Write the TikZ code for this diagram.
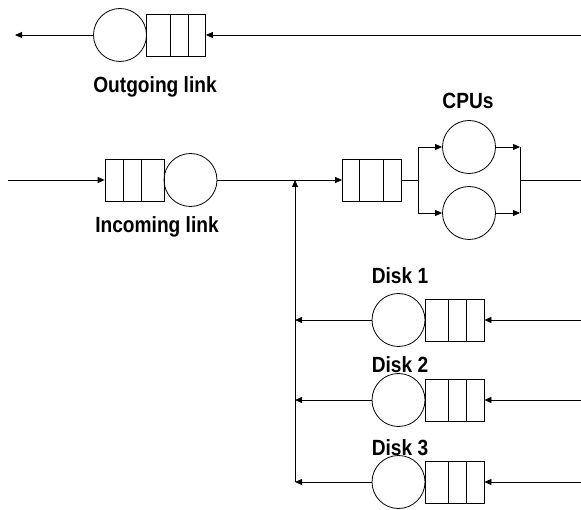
\documentclass[tikz,border=0pt]{standalone}
\usepackage{fontspec}
\setmainfont{Liberation Sans}
\usetikzlibrary{arrows.meta}
\tikzset{
  srv/.style={draw, circle, minimum size=53pt, inner sep=0pt, line width=0.8pt},
  que/.style={draw, rectangle, minimum width=59pt, minimum height=42pt, inner sep=0pt, line width=0.8pt},
  lbl/.style={font=\bfseries\fontsize{22}{24}\selectfont, inner sep=0pt, xscale=0.87},
  ln/.style={line width=0.8pt},
  arr/.style={line width=0.8pt, -{Triangle[length=7pt,width=6pt]}}
}
\begin{document}
\begin{tikzpicture}[x=1pt,y=-1pt]
\useasboundingbox (0,0) rectangle (581,510);

% Outgoing link
\node[srv] (oc) at (120,35) {};
\node[que] (oq) at (176,35) {};
\draw[ln] (170,14) -- (170,56) (188,14) -- (188,56);
\coordinate (oL) at (15,35);
\coordinate (oR) at (581,35);
\draw[arr] (oR) -- (oq.east);
\draw[arr] (oc.west) -- (oL);
\node[lbl] (olab) at (155,87) {Outgoing link};

% Incoming link
\node[que] (iq) at (134.5,180) {};
\draw[ln] (123,159) -- (123,201) (141,159) -- (141,201);
\node[srv] (ic) at (190.5,180) {};
\coordinate (iL) at (8,180);
\draw[arr] (iL) -- (iq.west);
\node[lbl] (ilab) at (157,227) {Incoming link};

% CPUs
\node[que] (cq) at (372,180) {};
\draw[ln] (359,159) -- (359,201) (383,159) -- (383,201);
\node[srv] (c1) at (469,147) {};
\node[srv] (c2) at (469,213) {};
\draw[arr] (ic.east) -- (cq.west);
\coordinate (bL) at (418,180);
\coordinate (bR) at (520,180);
\coordinate (bR1) at (520,147);
\coordinate (bR2) at (520,213);
\coordinate (cR) at (581,180);
\draw[ln] (cq.east) -- (bL);
\draw[arr] (bL) |- (c1.west);
\draw[arr] (bL) |- (c2.west);
\draw[arr] (c1.east) -- (bR1);
\draw[arr] (c2.east) -- (bR2);
\draw[ln] (bR1) -- (bR2);
\draw[ln] (bR) -- (cR);
\node[lbl] (clab) at (468,101) {CPUs};

% Feedback
\coordinate (J) at (295,180);
\coordinate (Jb) at (295,482);
\draw[arr] (Jb) -- (J);

% Disks
\foreach \i/\y/\ly in {1/320/276, 2/400/365, 3/482/448} {
  \node[srv] (dc\i) at (398.5,\y) {};
  \node[que] (dq\i) at (454.5,\y) {};
  \draw[ln] (448,\y-21) -- (448,\y+21) (466,\y-21) -- (466,\y+21);
  \coordinate (dR\i) at (581,\y);
  \coordinate (dL\i) at (295,\y);
  \draw[arr] (dR\i) -- (dq\i.east);
  \draw[arr] (dc\i.west) -- (dL\i);
  \node[lbl] (dlab\i) at (400,\ly) {Disk \i};
}
\end{tikzpicture}
\end{document}
